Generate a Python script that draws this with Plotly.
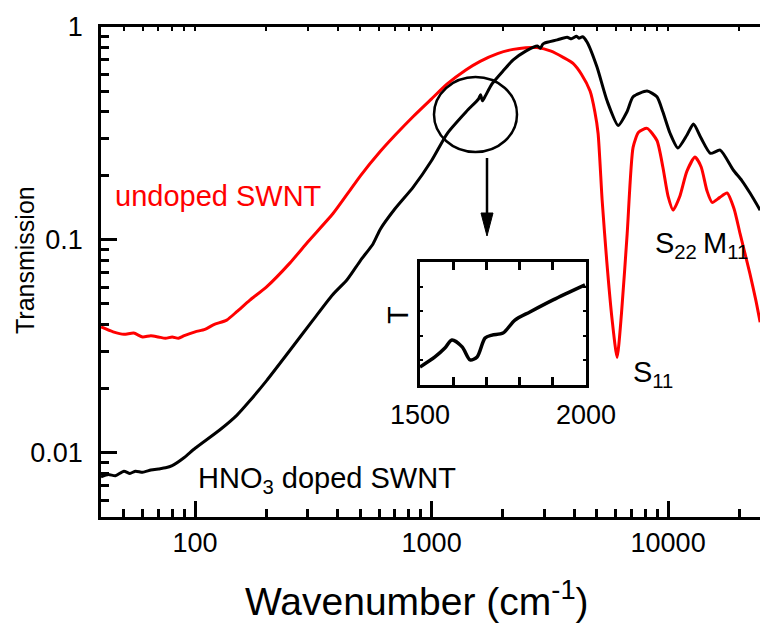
import numpy as np
import plotly.graph_objects as go

# ---------------- data ----------------
undoped_x = [40, 45, 50, 55, 60, 65, 70, 75, 80, 85, 90, 100, 110, 120, 136, 150, 170, 200,
             252, 300, 383, 450, 500, 606, 700, 836, 1000, 1164, 1400, 1604, 1900, 2213, 2500,
             2790, 3200, 3600, 3963, 4300, 4677, 4900, 5058, 5260, 5500, 5800, 6085, 6350,
             6713, 7110, 7500, 8150, 8970, 9500, 10000, 10500, 11200, 12000, 13000, 13800,
             14600, 15350, 16500, 17750, 19000, 20150, 21500, 22200, 23500, 24500]
undoped_y = [0.039, 0.037, 0.036, 0.0365, 0.035, 0.0355, 0.035, 0.0345, 0.035, 0.0345, 0.0355,
             0.037, 0.038, 0.040, 0.042, 0.046, 0.052, 0.060, 0.078, 0.098, 0.133, 0.17, 0.20,
             0.26, 0.31, 0.38, 0.46, 0.54, 0.63, 0.69, 0.75, 0.785, 0.80, 0.80, 0.77, 0.72,
             0.675, 0.60, 0.50, 0.40, 0.316, 0.154, 0.08, 0.042, 0.028, 0.045, 0.107, 0.272,
             0.32, 0.334, 0.293, 0.22, 0.16, 0.138, 0.16, 0.21, 0.245, 0.22, 0.17, 0.150,
             0.158, 0.166, 0.14, 0.107, 0.08, 0.069, 0.052, 0.041]

doped_x = [40, 43, 46, 50, 53, 56, 60, 65, 70, 75, 80, 90, 100, 127, 150, 170, 201, 250, 315,
           380, 439, 500, 566, 606, 700, 836, 1000, 1164, 1400, 1580, 1610, 1640, 1680, 1800,
           2000, 2213, 2500, 2800, 2880, 2950, 3000, 3400, 3740, 3900, 4100, 4200, 4350, 4540,
           5000, 5520, 6150, 6700, 7110, 8150, 8970, 9500, 10200, 11000, 12000, 12800, 13800,
           15100, 16600, 18850, 20500, 22200, 24500]
doped_y = [0.0077, 0.0079, 0.0078, 0.0082, 0.0080, 0.0082, 0.0081, 0.0083, 0.0084, 0.0085,
           0.0087, 0.0095, 0.0105, 0.0128, 0.015, 0.0175, 0.0219, 0.030, 0.042, 0.055, 0.065,
           0.080, 0.096, 0.112, 0.14, 0.177, 0.236, 0.316, 0.40, 0.46, 0.48, 0.45, 0.47, 0.54,
           0.62, 0.70, 0.77, 0.815, 0.795, 0.83, 0.84, 0.87, 0.895, 0.88, 0.905, 0.885, 0.9,
           0.85, 0.65, 0.45, 0.345, 0.40, 0.47, 0.50, 0.47, 0.40, 0.316, 0.27, 0.31, 0.35,
           0.30, 0.255, 0.264, 0.213, 0.19, 0.166, 0.138]

inset_x = [1500, 1545, 1575, 1596, 1627, 1651, 1672, 1696, 1717, 1750, 1786, 1831, 1901, 1997]
inset_y = [0.73, 1.14, 1.5, 1.83, 1.55, 1.02, 1.14, 1.91, 2.03, 2.11, 2.64, 2.97, 3.46, 4.07]

x_major = [100, 1000, 10000]
x_major_text = ["100", "1000", "10000"]
x_minor = [m * d for d in (10, 100, 1000, 10000) for m in range(2, 10) if 40 <= m * d <= 24500]
y_major = [0.01, 0.1, 1]
y_major_text = ["0.01", "0.1", "1"]
y_minor = [m * d for d in (0.001, 0.01, 0.1) for m in range(2, 10) if m * d >= 0.005]
inset_x_major = [1500, 2000]
inset_x_major_text = ["1500", "2000"]
inset_x_minor = [1600, 1700, 1800, 1900]
inset_y_ticks = [1, 2, 3, 4]

# ---------------- layout geometry ----------------
W, H = 760, 625
L, R, T, B = 101, 0, 27, 108
PW, PH = W - L - R, H - T - B
FONT = "Liberation Sans, Arial, sans-serif"


def px(p):
    return (p - L) / PW


def py(p):
    return (H - B - p) / PH


x_lo = np.log10(40)
x_hi = x_lo + PW / 236.5
y_lo, y_hi = -PH / 212.9, 0.0

fig = go.Figure()
fig.add_trace(go.Scatter(x=undoped_x, y=undoped_y, mode="lines",
                         line=dict(color="#ff0000", width=3, shape="spline", smoothing=0.6),
                         showlegend=False))
fig.add_trace(go.Scatter(x=doped_x, y=doped_y, mode="lines",
                         line=dict(color="black", width=3, shape="spline", smoothing=0.6),
                         showlegend=False))
# invisible trace to bring up the top tick axis
fig.add_trace(go.Scatter(x=doped_x, y=doped_y, mode="lines", xaxis="x3", yaxis="y",
                         line=dict(color="rgba(0,0,0,0)", width=0), hoverinfo="skip",
                         showlegend=False))
fig.add_trace(go.Scatter(x=inset_x, y=inset_y, mode="lines", xaxis="x2", yaxis="y2",
                         line=dict(color="black", width=3.5, shape="spline", smoothing=0.8),
                         showlegend=False))

tickfont = dict(family=FONT, size=27, color="black")

fig.update_layout(
    width=W, height=H,
    margin=dict(l=L, r=R, t=T, b=B, autoexpand=False),
    paper_bgcolor="white", plot_bgcolor="white",
    font=dict(family=FONT, color="black"),
    xaxis=dict(type="log", range=[x_lo, x_hi], showgrid=False, zeroline=False,
               automargin=False,
               showline=True, linecolor="black", linewidth=2.5, mirror=True,
               ticks="inside", ticklen=16, tickwidth=2.5, tickcolor="black",
               tickvals=x_major, ticktext=x_major_text, tickfont=tickfont,
               minor=dict(tickvals=x_minor, ticks="inside", ticklen=8, tickwidth=2.5,
                          tickcolor="black", showgrid=False)),
    xaxis3=dict(type="log", range=[x_lo, x_hi], overlaying="x", side="top",
                automargin=False,
                showgrid=False, zeroline=False, showline=False, ticks="inside",
                ticklen=4, tickwidth=1.5, tickcolor="black", showticklabels=False,
                tickvals=x_major + x_minor),
    yaxis=dict(type="log", range=[y_lo, y_hi], showgrid=False, zeroline=False,
               automargin=False,
               showline=True, linecolor="black", linewidth=2.5, mirror=False,
               ticks="inside", ticklen=16, tickwidth=2.5, tickcolor="black",
               tickvals=y_major, ticktext=y_major_text, tickfont=tickfont,
               ticklabelstandoff=10,
               minor=dict(tickvals=y_minor, ticks="inside", ticklen=8, tickwidth=2.5,
                          tickcolor="black", showgrid=False)),
    xaxis2=dict(domain=[px(420), px(586)], anchor="y2", range=[1500, 2000],
                automargin=False,
                showgrid=False, zeroline=False, showline=True, linecolor="black",
                linewidth=2.5, mirror="ticks", ticks="inside", ticklen=8, tickwidth=2.5,
                tickcolor="black", tickvals=inset_x_major, ticktext=inset_x_major_text,
                tickfont=tickfont, ticklabelstandoff=4,
                minor=dict(tickvals=inset_x_minor, ticks="inside", ticklen=8,
                           tickwidth=2.5, tickcolor="black", showgrid=False)),
    yaxis2=dict(domain=[py(385), py(262)], anchor="x2", range=[0, 5],
                automargin=False,
                showgrid=False, zeroline=False, showline=True, linecolor="black",
                linewidth=2.5, mirror="ticks", ticks="inside", ticklen=3, tickwidth=2,
                tickcolor="black", tickvals=inset_y_ticks, showticklabels=False),
)

ann_font = dict(family=FONT, size=29, color="black")
annotations = [
    dict(x=px(113), y=py(196), text="undoped SWNT", xanchor="left", yanchor="middle",
         font=dict(family=FONT, size=29, color="#ff0000")),
    dict(x=px(196), y=py(480), text="HNO<sub>3</sub> doped SWNT", xanchor="left",
         yanchor="middle", font=ann_font),
    dict(x=px(631), y=py(374), text="S<sub>11</sub>", xanchor="left", yanchor="middle",
         font=ann_font),
    dict(x=px(653), y=py(245), text="S<sub>22</sub>", xanchor="left", yanchor="middle",
         font=ann_font),
    dict(x=px(701), y=py(245), text="M<sub>11</sub>", xanchor="left", yanchor="middle",
         font=ann_font),
    dict(x=px(398), y=py(315), text="T", xanchor="center", yanchor="middle",
         textangle=-90, font=ann_font),
    dict(x=px(25), y=py(260), text="Transmission", xanchor="center", yanchor="middle",
         textangle=-90, font=dict(family=FONT, size=25, color="black")),
    dict(x=px(417), y=py(598), text="Wavenumber (cm<sup>-1</sup>)", xanchor="center",
         yanchor="middle", font=dict(family=FONT, size=39, color="black")),
]
for a in annotations:
    a.update(xref="paper", yref="paper", showarrow=False)
fig.update_layout(annotations=annotations)

shapes = [
    dict(type="circle", xref="paper", yref="paper", x0=px(434), x1=px(517),
         y0=py(152), y1=py(77), line=dict(color="black", width=2.5)),
    dict(type="line", xref="paper", yref="paper", x0=px(487), x1=px(487),
         y0=py(158), y1=py(216), line=dict(color="black", width=2.5)),
    dict(type="path", xref="paper", yref="paper",
         path=f"M {px(481)} {py(213)} L {px(493)} {py(213)} L {px(487)} {py(236)} Z",
         fillcolor="black", line=dict(color="black", width=1)),
]
fig.update_layout(shapes=shapes)

fig.write_html("out.html", config={"displayModeBar": False},
               post_script="document.body.style.margin='0';"
                           "document.body.style.overflow='hidden';")
